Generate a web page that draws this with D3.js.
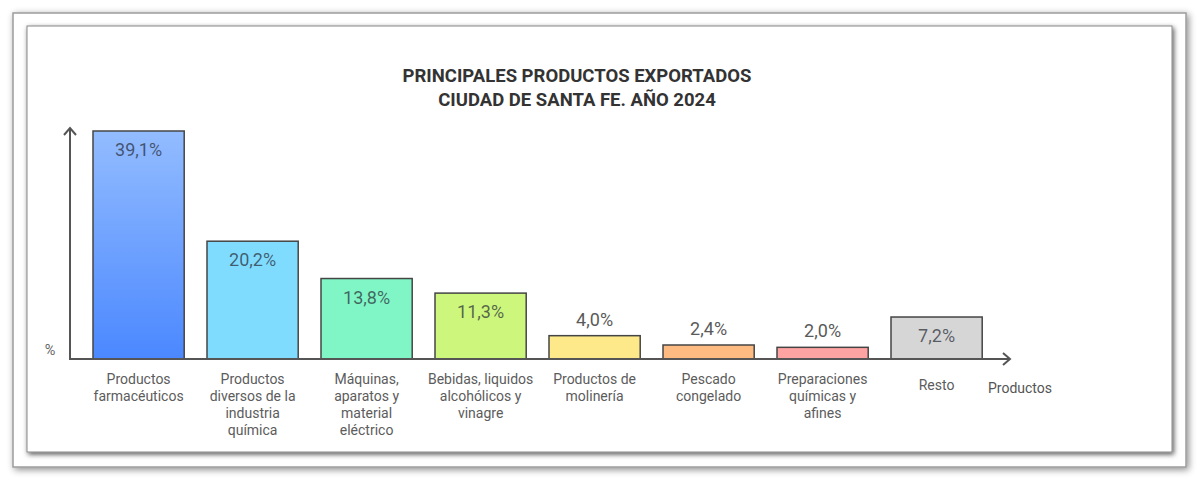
<!DOCTYPE html>
<html>
<head>
<meta charset="utf-8">
<script src="https://cdn.jsdelivr.net/npm/d3@7"></script>
<style>
  body { margin: 0; background: #fff; }
  svg { display: block; font-family: Roboto, "Noto Sans", sans-serif; }
</style>
</head>
<body>
<svg class="chart"></svg>
<script>
var categories = [
  ['Productos', 'farmacéuticos'],
  ['Productos', 'diversos de la', 'industria', 'química'],
  ['Máquinas,', 'aparatos y', 'material', 'eléctrico'],
  ['Bebidas, liquidos', 'alcohólicos y', 'vinagre'],
  ['Productos de', 'molinería'],
  ['Pescado', 'congelado'],
  ['Preparaciones', 'químicas y', 'afines'],
  ['Resto']
];
var values = [39.1, 20.2, 13.8, 11.3, 4.0, 2.4, 2.0, 7.2];
var barColors = ['url(#blueGrad)', '#80dcff', '#80f5c6', '#cdf67c', '#fde98a', '#fdbb82', '#ffa3a3', '#d6d6d6'];
var titleLines = ['PRINCIPALES PRODUCTOS EXPORTADOS', 'CIUDAD DE SANTA FE. AÑO 2024'];

var svg = d3.select('svg.chart')
  .attr('width', 1200)
  .attr('height', 481);

var defs = svg.append('defs');

var addShadow = function (id, dev, dx, dy, op) {
  defs.append('filter')
    .attr('id', id)
    .attr('x', '-5%').attr('y', '-10%')
    .attr('width', '110%').attr('height', '120%')
    .append('feDropShadow')
    .attr('dx', dx).attr('dy', dy)
    .attr('stdDeviation', dev)
    .attr('flood-color', '#000')
    .attr('flood-opacity', op);
};
addShadow('outerShadow', 3.5, 2, 2, 0.45);
addShadow('innerShadow', 2.5, 1.5, 2, 0.65);

var grad = defs.append('linearGradient')
  .attr('id', 'blueGrad')
  .attr('x1', 0).attr('y1', 0).attr('x2', 0).attr('y2', 1);
grad.append('stop').attr('offset', '0%').attr('stop-color', '#93bcff');
grad.append('stop').attr('offset', '100%').attr('stop-color', '#4b88ff');

// frames
svg.append('rect')
  .attr('x', 13).attr('y', 13).attr('width', 1173).attr('height', 454)
  .attr('fill', '#fff').attr('stroke', '#9c9c9c').attr('stroke-width', 1.5)
  .attr('filter', 'url(#outerShadow)');
svg.append('rect')
  .attr('x', 27).attr('y', 26).attr('width', 1145).attr('height', 426)
  .attr('fill', '#fff').attr('stroke', '#888').attr('stroke-width', 1)
  .attr('filter', 'url(#innerShadow)');

// title
svg.append('text')
  .attr('x', 577).attr('y', 81.5)
  .attr('text-anchor', 'middle')
  .attr('font-size', 18.5).attr('font-weight', 'bold').attr('fill', '#333')
  .selectAll('tspan').data(titleLines).enter().append('tspan')
  .attr('x', 577)
  .attr('dy', function (d, i) { return i === 0 ? 0 : 24; })
  .text(function (d) { return d; });

var baseline = 359;
var x = d3.scaleBand()
  .domain(d3.range(values.length))
  .range([93, 982.2])
  .paddingInner(0.2)
  .paddingOuter(0);
var y = d3.scaleLinear()
  .domain([0, 39.1])
  .range([baseline, 131]);

// bars
svg.append('g').selectAll('rect')
  .data(values).enter().append('rect')
  .attr('x', function (d, i) { return x(i); })
  .attr('y', function (d) { return y(d); })
  .attr('width', x.bandwidth())
  .attr('height', function (d) { return baseline - y(d); })
  .attr('fill', function (d, i) { return barColors[i]; })
  .attr('stroke', '#454545')
  .attr('stroke-width', 1.5);

// value labels
var fmt = function (v) { return d3.format('.1f')(v).replace('.', ',') + '%'; };
svg.append('g').selectAll('text')
  .data(values).enter().append('text')
  .attr('x', function (d, i) { return x(i) + x.bandwidth() / 2; })
  .attr('y', function (d) {
    return (baseline - y(d)) > 40 ? y(d) + 25 : y(d) - 10;
  })
  .attr('text-anchor', 'middle')
  .attr('font-size', 18)
  .attr('fill', function (d) { return (baseline - y(d)) > 40 ? 'rgba(40,45,55,0.72)' : '#5a5a5a'; })
  .text(fmt);

// axes
var axisColor = '#555';
svg.append('line')
  .attr('x1', 70).attr('x2', 70)
  .attr('y1', baseline).attr('y2', 128)
  .attr('stroke', axisColor).attr('stroke-width', 2);
svg.append('path')
  .attr('d', 'M64,135 L70,128 L76,135')
  .attr('fill', 'none').attr('stroke', axisColor).attr('stroke-width', 2);
svg.append('line')
  .attr('x1', 69).attr('x2', 1010)
  .attr('y1', baseline).attr('y2', baseline)
  .attr('stroke', axisColor).attr('stroke-width', 2);
svg.append('path')
  .attr('d', 'M1003,353 L1010,359 L1003,365')
  .attr('fill', 'none').attr('stroke', axisColor).attr('stroke-width', 2);

svg.append('text')
  .attr('x', 50).attr('y', 355)
  .attr('text-anchor', 'middle')
  .attr('font-size', 14.5).attr('fill', '#666')
  .text('%');
svg.append('text')
  .attr('x', 1020).attr('y', 393)
  .attr('text-anchor', 'middle')
  .attr('font-size', 14).attr('fill', '#555')
  .text('Productos');

// category labels
var catLabels = svg.append('g').selectAll('text')
  .data(categories).enter().append('text')
  .attr('text-anchor', 'middle')
  .attr('font-size', 14)
  .attr('fill', '#5c5c5c')
  .attr('y', function (d) { return d.length === 1 ? 390 : 384; });

catLabels.selectAll('tspan')
  .data(function (d, i) { return d.map(function (s) { return { s: s, i: i }; }); })
  .enter().append('tspan')
  .attr('x', function (d) { return x(d.i) + x.bandwidth() / 2; })
  .attr('dy', function (d, j) { return j === 0 ? 0 : 17; })
  .text(function (d) { return d.s; });
</script>
</body>
</html>
